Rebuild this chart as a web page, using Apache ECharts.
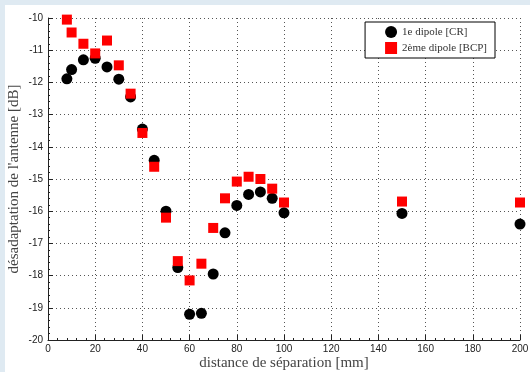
<!DOCTYPE html>
<html><head><meta charset="utf-8">
<script src="https://cdn.jsdelivr.net/npm/echarts@6/dist/echarts.min.js"></script>
<style>
html,body{margin:0;padding:0;background:#dfeaf2;}
#wrap{position:absolute;left:5px;top:5px;width:525px;height:367px;background:#fff;}
#c{position:absolute;left:-5px;top:-5px;width:530px;height:372px;}
</style></head>
<body><div id="wrap"><div id="c"></div></div>
<script>
const distances = [8,10,15,20,25,30,35,40,45,50,55,60,65,70,75,80,85,90,95,100,150,200];
const dipole1CR = [-11.89,-11.6,-11.3,-11.25,-11.52,-11.9,-12.45,-13.45,-14.42,-16.0,-17.75,-19.2,-19.17,-17.95,-16.67,-15.82,-15.48,-15.4,-15.6,-16.05,-16.07,-16.4];
const dipole2BCP = [-10.05,-10.45,-10.8,-11.1,-10.7,-11.47,-12.35,-13.57,-14.62,-16.2,-17.55,-18.15,-17.63,-16.52,-15.6,-15.08,-14.93,-15.0,-15.3,-15.73,-15.7,-15.73];
const seriesNames = ['1e dipole [CR]','2ème dipole [BCP]'];

const chart = echarts.init(document.getElementById('c'), null, {renderer:'canvas'});
const serif = 'Liberation Serif';
chart.setOption({
  backgroundColor:'transparent',
  animation:false,
  grid:{left:48,right:10,top:18,bottom:32,containLabel:false,outerBoundsMode:'none'},
  legend:{
    right:35, top:22, orient:'vertical', itemGap:4,
    backgroundColor:'#fff', borderColor:'#000', borderWidth:1, padding:[4,8,4,20],
    itemWidth:12, itemHeight:12,
    textStyle:{fontFamily:serif,fontSize:11,color:'#333'},
    data:[{name:seriesNames[0],icon:'circle'},{name:seriesNames[1],icon:'rect'}]
  },
  xAxis:{
    type:'value',min:0,max:200,interval:20,
    name:'distance de séparation [mm]',nameLocation:'middle',nameGap:16,nameMoveOverlap:false,
    nameTextStyle:{fontFamily:serif,fontSize:15,color:'#444'},
    axisLine:{show:true,onZero:false,lineStyle:{color:'#222',width:1}},
    axisTick:{show:true,inside:true,length:5,lineStyle:{color:'#222'}},
    minorTick:{show:true,splitNumber:5,length:2,lineStyle:{color:'#222'}},
    axisLabel:{fontFamily:'Liberation Sans',fontSize:10,color:'#222',margin:4},
    splitLine:{show:true,lineStyle:{color:'#555',type:[1,3],width:1}}
  },
  yAxis:{
    type:'value',min:-20,max:-10,interval:1,
    name:"désadaptation de l'antenne [dB]",nameLocation:'middle',nameGap:26,nameMoveOverlap:false,
    nameTextStyle:{fontFamily:serif,fontSize:15,color:'#444'},
    axisLine:{show:true,onZero:false,lineStyle:{color:'#222',width:1}},
    axisTick:{show:true,inside:true,length:5,lineStyle:{color:'#222'}},
    minorTick:{show:true,splitNumber:5,length:2,lineStyle:{color:'#222'}},
    axisLabel:{fontFamily:'Liberation Sans',fontSize:10,color:'#222',margin:5},
    splitLine:{show:true,lineStyle:{color:'#555',type:[1,3],width:1}}
  },
  series:[
    {name:seriesNames[0],type:'scatter',symbol:'circle',symbolSize:11,
     itemStyle:{color:'#000',opacity:1},z:2,
     data:distances.map((d,i)=>[d,dipole1CR[i]])},
    {name:seriesNames[1],type:'scatter',symbol:'rect',symbolSize:10,
     itemStyle:{color:'#f00',opacity:1},z:3,
     data:distances.map((d,i)=>[d,dipole2BCP[i]])}
  ]
});
</script></body></html>
